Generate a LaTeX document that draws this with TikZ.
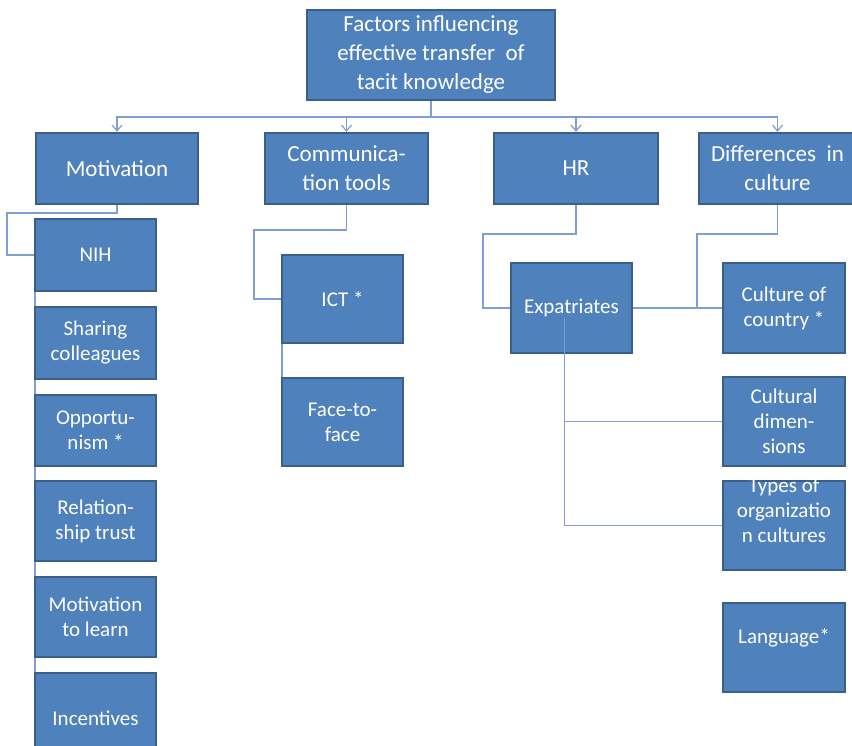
\documentclass[tikz,border=0pt]{standalone}
\usepackage{fontspec}
\setmainfont{Carlito}
\usetikzlibrary{arrows.meta,backgrounds}
\definecolor{boxfill}{HTML}{4F81BD}
\definecolor{boxline}{HTML}{3A5F8B}
\definecolor{conncol}{HTML}{7E9FD0}
\newcommand{\bigtxt}{\fontsize{23}{29}\selectfont}
\newcommand{\smtxt}{\fontsize{21}{25}\selectfont}
\begin{document}
\begin{tikzpicture}[x=1pt,y=-1pt,
  box/.style={draw=boxline, fill=boxfill, line width=2.2pt, text=white, align=center, inner sep=0pt},
  bigbox/.style={box, font=\bigtxt},
  smbox/.style={box, font=\smtxt},
  conn/.style={draw=conncol, line width=1.4pt},
  arr/.style={conn, -{Straight Barb[length=6pt,width=10pt,line width=1.2pt]}}]
\useasboundingbox (0,0) rectangle (852,746);
\clip (0,0) rectangle (852,746);
% top and level 1
\node[bigbox, minimum width=248pt, minimum height=90pt] (top) at (431,55) {Factors influencing\\effective transfer~ of\\tacit knowledge};
\node[bigbox, minimum width=162pt, minimum height=71pt] (mot) at (117,168.5) {Motivation};
\node[bigbox, minimum width=163pt, minimum height=71pt] (com) at (346.5,168.5) {Communica-\\tion tools};
\node[bigbox, minimum width=164pt, minimum height=71pt] (hr) at (576,168.5) {HR};
\node[bigbox, minimum width=157pt, minimum height=71pt] (dif) at (777.5,168.5) {Differences~ in\\culture};
% motivation column
\node[smbox, minimum width=121pt, minimum height=72pt] (nih) at (95.5,255) {NIH};
\node[smbox, minimum width=121pt, minimum height=72pt] (shr) at (95.5,343) {Sharing\\colleagues};
\node[smbox, minimum width=121pt, minimum height=71pt] (opp) at (95.5,430.5) {Opportu-\\nism *};
\node[smbox, minimum width=121pt, minimum height=80pt] (rel) at (95.5,521) {Relation-\\ship trust};
\node[smbox, minimum width=121pt, minimum height=80pt] (mtl) at (95.5,617) {Motivation\\to learn};
\node[smbox, minimum width=121pt, minimum height=90pt] (inc) at (95.5,718) {Incentives};
% communication column
\node[smbox, minimum width=121pt, minimum height=88pt] (ict) at (342.5,299) {ICT *};
\node[smbox, minimum width=121pt, minimum height=88pt] (f2f) at (342.5,422) {Face-to-\\face};
% HR / culture
\node[smbox, minimum width=121pt, minimum height=90pt] (exp) at (571.5,308) {Expatriates};
\node[smbox, minimum width=122pt, minimum height=90pt] (coc) at (784,308) {Culture of\\country *};
\node[smbox, minimum width=122pt, minimum height=89pt] (cud) at (784,421.5) {Cultural\\dimen-\\sions};
\node[smbox, minimum width=122pt, minimum height=89pt] (typ) at (784,525.5) {\raisebox{8pt}[0pt][0pt]{\begin{tabular}{@{}c@{}}Types of\\organizatio\\n cultures\end{tabular}}};
\node[smbox, minimum width=122pt, minimum height=89pt] (lan) at (784,647.5) {\raisebox{4.5pt}[0pt][0pt]{Language*}};
\coordinate (ex) at ([xshift=-7pt,yshift=-10pt]exp.center);
\begin{pgfonlayer}{background}
  \draw[arr] (top.south) -- ++(0,16) -| (mot.north);
  \draw[arr] (top.south) -- ++(0,16) -| (com.north);
  \draw[arr] (top.south) -- ++(0,16) -| (hr.north);
  \draw[arr] (top.south) -- ++(0,16) -| (dif.north);
  \draw[conn] (mot.south) -- ++(0,8) -| ([xshift=-27pt]nih.west) -- (nih.west);
  \draw[conn] ([xshift=1pt]nih.south west) -- ([xshift=1pt]inc.north west);
  \draw[conn] (com.south) -- ++(0,25) -| ([xshift=-27pt]ict.west) -- (ict.west);
  \draw[conn] ([xshift=1pt]ict.south west) -- ([xshift=1pt]f2f.north west);
  \draw[conn] (hr.south) -- ++(0,29) -| ([xshift=-27pt]exp.west) -- (exp.west);
  \draw[conn] (dif.south) -- ++(0,29) -| ([xshift=-25pt]coc.west);
  \draw[conn] (exp.east) -- (coc.west);
\end{pgfonlayer}
\draw[conn] (ex) |- (typ.west);
\draw[conn] (ex |- cud.west) -- (cud.west);
\end{tikzpicture}
\end{document}
